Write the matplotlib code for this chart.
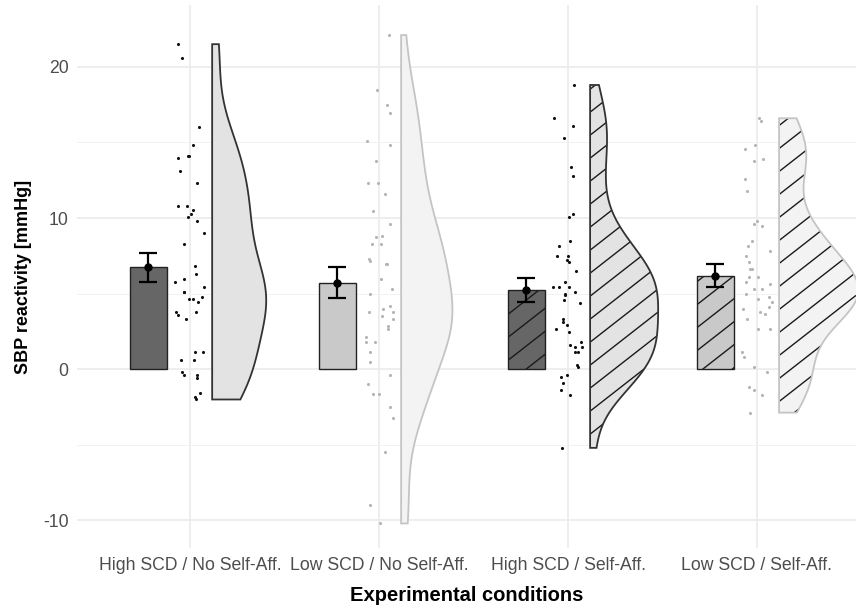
import numpy as np
import matplotlib
matplotlib.use("Agg")
import matplotlib.pyplot as plt
from matplotlib.patches import Polygon
from matplotlib.collections import LineCollection

plt.rcParams['font.family'] = ['Liberation Sans', 'DejaVu Sans']
plt.rcParams['axes.unicode_minus'] = False

conditions = ["High SCD / No Self-Aff.", "Low SCD / No Self-Aff.",
              "High SCD / Self-Aff.", "Low SCD / Self-Aff."]

high_noaff = [21.5, 20.6, 16.0, 14.8, 14.0, 14.1, 14.1, 13.1, 12.3, 10.8, 10.8,
              10.3, 10.1, 10.5, 9.8, 9.0, 8.3, 6.8, 6.3, 6.0, 5.8, 5.45, 5.1,
              5.1, 4.8, 4.65, 4.65, 4.45, 3.8, 3.8, 3.3, 3.6, 1.15, 1.15, 0.64,
              0.64, -0.35, -0.57, -0.35, -0.18, -1.57, -1.85, -2.0]
low_noaff = [22.1, 18.45, 17.46, 16.95, 15.1, 14.8, 13.8, 12.3, 12.3, 11.6,
             10.46, 9.6, 8.3, 8.3, 8.76, 8.8, 7.15, 7.3, 6.97, 6.97, 6.0, 5.3,
             4.97, 4.17, 3.8, 3.8, 3.97, 3.5, 3.3, 2.83, 2.63, 2.14, 1.8, 1.8,
             1.15, 0.49, -0.35, -1.0, -1.67, -1.67, -2.5, -3.2, -5.5, -9.0, -10.2]
high_aff = [18.8, 16.6, 16.1, 15.3, 13.4, 12.8, 10.3, 10.1, 8.5, 8.15, 7.46,
            7.46, 7.2, 7.1, 6.47, 5.8, 5.45, 5.45, 5.45, 5.1, 4.9, 4.57, 4.35,
            4.97, 3.3, 3.13, 2.93, 2.63, 2.45, 1.8, 1.6, 1.5, 1.5, 1.15, 1.15,
            0.29, 0.13, -0.5, -0.35, -0.88, -1.35, -1.68, -5.2]
low_aff = [16.4, 16.6, 14.6, 14.8, 13.8, 13.9, 12.6, 11.8, 9.8, 9.6, 9.47, 8.48,
           8.15, 7.8, 7.1, 7.5, 6.6, 6.6, 6.1, 6.1, 5.65, 5.8, 5.3, 5.3, 4.8,
           4.46, 4.97, 4.64, 4.15, 3.97, 3.8, 3.3, 3.64, 2.63, 2.63, 1.13, 0.8,
           0.13, -0.2, -1.17, -1.7, -1.37, -2.87]
groups = [high_noaff, low_noaff, high_aff, low_aff]

means = [6.75, 5.72, 5.23, 6.2]
ses = [0.95, 1.02, 0.8, 0.74]

# styles per condition
bar_fill = ['#666666', '#c9c9c9', '#666666', '#c9c9c9']
vio_fill = ['#e3e3e3', '#f3f3f3', '#e3e3e3', '#f3f3f3']
vio_edge = ['#333333', '#c4c4c4', '#333333', '#c4c4c4']
pt_col = ['#111111', '#b5b5b5', '#111111', '#b5b5b5']
hatched = [False, False, True, True]


def kde(vals, grid):
    v = np.asarray(vals)
    n = len(v)
    iqr = np.subtract(*np.percentile(v, [75, 25]))
    bw = 0.9 * min(v.std(ddof=1), iqr / 1.34) * n ** -0.2
    d = np.exp(-0.5 * ((grid[:, None] - v[None, :]) / bw) ** 2).sum(1)
    return d / (n * bw * np.sqrt(2 * np.pi))


def stripes(ax, patch, angle=38, spacing=23):
    # diagonal stripes (pixel spacing, measured vertically), clipped to patch
    tr = ax.transData
    x0, x1 = ax.get_xlim()
    y0, y1 = ax.get_ylim()
    (px0, py0), (px1, py1) = tr.transform([(x0, y0), (x1, y1)])
    slope = np.tan(np.radians(angle))
    segs = []
    for c in np.arange(py0 - slope * (px1 - px0), py1 + spacing, spacing):
        a = (px0, c)
        b = (px1, c + slope * (px1 - px0))
        segs.append(tr.inverted().transform([a, b]))
    lc = LineCollection(segs, colors='#1a1a1a', linewidths=1.0,
                        zorder=patch.get_zorder() + 0.1)
    ax.add_collection(lc)
    lc.set_clip_path(patch)


fig, ax = plt.subplots(figsize=(8.56, 6.08), dpi=100)
fig.subplots_adjust(left=0.09, right=1.0, bottom=0.098, top=0.992)

x = np.arange(4)
ax.set_xlim(-0.598, 3.524)
ax.set_ylim(-11.85, 24.1)

dens = []
for vals in groups:
    g = np.linspace(min(vals), max(vals), 300)
    dens.append((g, kde(vals, g)))
scale = 0.286 / dens[0][1].max()

rng = np.random.default_rng(3)
for i, vals in enumerate(groups):
    # half violin
    g, d = dens[i]
    x0 = x[i] + 0.117
    xs = np.concatenate([x0 + d * scale, [x0, x0]])
    ys = np.concatenate([g, [g[-1], g[0]]])
    vio = Polygon(np.column_stack([xs, ys]), closed=True,
                  facecolor=vio_fill[i], edgecolor='none', zorder=3)
    ax.add_patch(vio)
    if hatched[i]:
        stripes(ax, vio)
    ax.add_patch(Polygon(np.column_stack([xs, ys]), closed=True, fill=False,
                         edgecolor=vio_edge[i], linewidth=1.3, zorder=4))

    # jittered points
    jx = x[i] + rng.uniform(-0.08, 0.08, len(vals))
    ax.scatter(jx, vals, s=5, color=pt_col[i], linewidths=0, zorder=3)

    # bar of means
    bx = x[i] - 0.22
    bar = ax.bar(bx, means[i], width=0.2, color=bar_fill[i], edgecolor='none',
                 zorder=3)[0]
    if hatched[i]:
        stripes(ax, bar)
    ax.bar(bx, means[i], width=0.2, fill=False, edgecolor='#222222',
           linewidth=1.0, zorder=4)
    ax.errorbar(bx, means[i], yerr=ses[i], fmt='o', color='black', ms=5,
                capsize=6.5, elinewidth=1.6, capthick=1.6, zorder=5)

ax.set_yticks([-10, 0, 10, 20])
ax.set_yticks([-5, 5, 15], minor=True)
ax.set_xticks(x)
ax.set_xticklabels(conditions)
ax.tick_params(axis='both', which='both', length=0, labelsize=12.7,
               labelcolor='#4d4d4d')
ax.tick_params(axis='x', pad=6)
ax.tick_params(axis='y', pad=6)
ax.grid(which='major', color='#ebebeb', linewidth=1.2, zorder=0)
ax.grid(which='minor', axis='y', color='#f2f2f2', linewidth=0.7, zorder=0)
ax.set_axisbelow(True)
for s in ax.spines.values():
    s.set_visible(False)

ax.set_xlabel("Experimental conditions", fontsize=14.5, fontweight='bold', labelpad=9)
ax.set_ylabel("SBP reactivity [mmHg]", fontsize=13, fontweight='bold', labelpad=8)

fig.savefig("out.png", dpi=100)
